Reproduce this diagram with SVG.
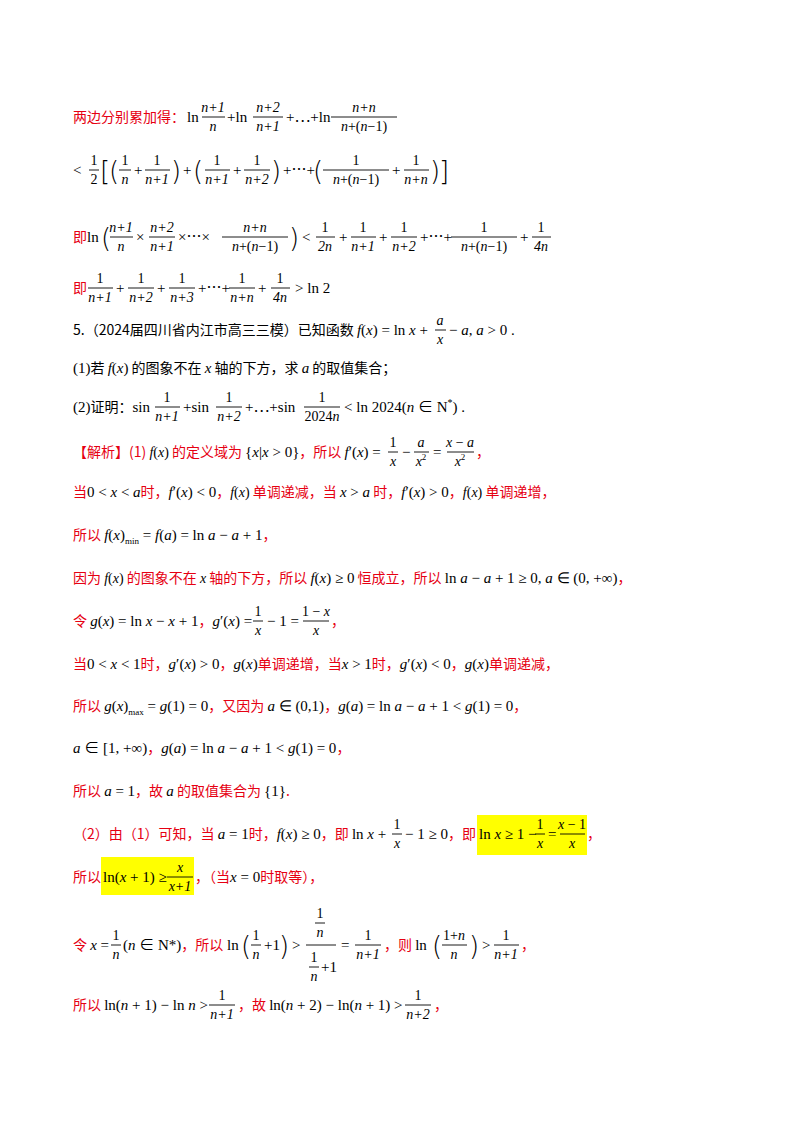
<svg xmlns="http://www.w3.org/2000/svg" width="800" height="1132" viewBox="0 0 800 1132">
<style>
text{font-family:"Liberation Serif","Noto Sans CJK SC",serif;font-size:15px;fill:#000}
.r{fill:#e60012;font-family:"Noto Sans CJK SC",sans-serif;font-size:14px}
.c{font-family:"Noto Sans CJK SC",sans-serif;font-size:14px}
.i{font-style:italic}
.f{text-anchor:middle;font-size:14px}
.b{font-size:26px;font-family:"DejaVu Sans",sans-serif;font-weight:100}
line{stroke:#000;stroke-width:0.9}
</style>
<rect width="800" height="1132" fill="#fff"/>
<g id="highlights" fill="#ffff00"><rect x="477" y="815" width="110" height="40"/><rect x="101" y="857" width="93" height="38"/></g>

<g id="line1">
<text class="r" x="73" y="122">两边分别累加得：</text>
<text x="187" y="122">ln</text>
<text class="f i" x="213" y="112">n+1</text><line x1="202" x2="225" y1="117" y2="117"/><text class="f i" x="213" y="131">n</text>
<text x="227" y="122">+ln</text>
<text class="f i" x="268" y="112">n+2</text><line x1="253" x2="283" y1="117" y2="117"/><text class="f i" x="268" y="131">n+1</text>
<text x="286" y="122">+⋯+ln</text>
<text class="f i" x="364" y="112">n+n</text><line x1="331" x2="397" y1="117" y2="117"/><text class="f" x="364" y="131"><tspan class="i">n</tspan>+(<tspan class="i">n</tspan>−1)</text>
</g>

<g id="line2">
<text x="73" y="175">&lt;</text>
<text class="f" x="94" y="165">1</text><line x1="89" x2="99" y1="170" y2="170"/><text class="f" x="94" y="184">2</text>
<text class="b" x="100" y="180">[</text><text class="b" x="109" y="180">(</text>
<text class="f" x="125" y="165">1</text><line x1="119" x2="131" y1="170" y2="170"/><text class="f i" x="125" y="184">n</text>
<text x="134" y="175">+</text>
<text class="f" x="157" y="165">1</text><line x1="145" x2="170" y1="170" y2="170"/><text class="f i" x="157" y="184">n+1</text>
<text class="b" x="171" y="180">)</text><text x="183" y="175">+</text><text class="b" x="193" y="180">(</text>
<text class="f" x="217" y="165">1</text><line x1="205" x2="230" y1="170" y2="170"/><text class="f i" x="217" y="184">n+1</text>
<text x="233" y="175">+</text>
<text class="f" x="257" y="165">1</text><line x1="244" x2="270" y1="170" y2="170"/><text class="f i" x="257" y="184">n+2</text>
<text class="b" x="271" y="180">)</text><text x="283" y="175">+⋯+</text><text class="b" x="313" y="180">(</text>
<text class="f" x="356" y="165">1</text><line x1="323" x2="389" y1="170" y2="170"/><text class="f" x="356" y="184"><tspan class="i">n</tspan>+(<tspan class="i">n</tspan>−1)</text>
<text x="392" y="175">+</text>
<text class="f" x="416" y="165">1</text><line x1="404" x2="429" y1="170" y2="170"/><text class="f i" x="416" y="184">n+n</text>
<text class="b" x="430" y="180">)</text><text class="b" x="439" y="180">]</text>
</g>

<g id="line3">
<text class="r" x="73" y="242">即</text><text x="87" y="242">ln</text><text class="b" x="101" y="247">(</text>
<text class="f i" x="121" y="232">n+1</text><line x1="110" x2="133" y1="237" y2="237"/><text class="f i" x="121" y="251">n</text>
<text x="136" y="242">×</text>
<text class="f i" x="162" y="232">n+2</text><line x1="149" x2="175" y1="237" y2="237"/><text class="f i" x="162" y="251">n+1</text>
<text x="178" y="242">×⋯×</text>
<text class="f i" x="255" y="232">n+n</text><line x1="222" x2="288" y1="237" y2="237"/><text class="f" x="255" y="251"><tspan class="i">n</tspan>+(<tspan class="i">n</tspan>−1)</text>
<text class="b" x="289" y="247">)</text><text x="302" y="242">&lt;</text>
<text class="f" x="325" y="232">1</text><line x1="316" x2="335" y1="237" y2="237"/><text class="f i" x="325" y="251">2n</text>
<text x="339" y="242">+</text>
<text class="f" x="363" y="232">1</text><line x1="351" x2="376" y1="237" y2="237"/><text class="f i" x="363" y="251">n+1</text>
<text x="379" y="242">+</text>
<text class="f" x="404" y="232">1</text><line x1="391" x2="417" y1="237" y2="237"/><text class="f i" x="404" y="251">n+2</text>
<text x="420" y="242">+⋯+</text>
<text class="f" x="484" y="232">1</text><line x1="451" x2="517" y1="237" y2="237"/><text class="f" x="484" y="251"><tspan class="i">n</tspan>+(<tspan class="i">n</tspan>−1)</text>
<text x="520" y="242">+</text>
<text class="f" x="541" y="232">1</text><line x1="532" x2="551" y1="237" y2="237"/><text class="f i" x="541" y="251">4n</text>
</g>

<g id="line4">
<text class="r" x="73" y="293">即</text>
<text class="f" x="100" y="283">1</text><line x1="88" x2="113" y1="288" y2="288"/><text class="f i" x="100" y="302">n+1</text>
<text x="116" y="293">+</text>
<text class="f" x="141" y="283">1</text><line x1="128" x2="154" y1="288" y2="288"/><text class="f i" x="141" y="302">n+2</text>
<text x="157" y="293">+</text>
<text class="f" x="182" y="283">1</text><line x1="169" x2="195" y1="288" y2="288"/><text class="f i" x="182" y="302">n+3</text>
<text x="198" y="293">+⋯+</text>
<text class="f" x="242" y="283">1</text><line x1="229" x2="255" y1="288" y2="288"/><text class="f i" x="242" y="302">n+n</text>
<text x="258" y="293">+</text>
<text class="f" x="280" y="283">1</text><line x1="271" x2="290" y1="288" y2="288"/><text class="f i" x="280" y="302">4n</text>
<text x="295" y="293">&gt; ln 2</text>
</g>

<g id="line5">
<text x="73" y="335"><tspan class="c">5.（2024届四川省内江市高三三模）已知函数 </tspan><tspan class="i">f</tspan>(<tspan class="i">x</tspan>) = ln <tspan class="i">x</tspan> +</text>
<text class="f i" x="440" y="325">a</text><line x1="435" x2="446" y1="330" y2="330"/><text class="f i" x="440" y="344">x</text>
<text x="449" y="335">− <tspan class="i">a</tspan>, <tspan class="i">a</tspan> &gt; 0 .</text>
</g>

<g id="line6"><text x="73" y="373">(1)<tspan class="c">若 </tspan><tspan class="i">f</tspan>(<tspan class="i">x</tspan>)<tspan class="c"> 的图象不在 </tspan><tspan class="i">x</tspan><tspan class="c"> 轴的下方，求 </tspan><tspan class="i">a</tspan><tspan class="c"> 的取值集合；</tspan></text></g>

<g id="line7">
<text x="73" y="412">(2)<tspan class="c">证明：</tspan>sin</text>
<text class="f" x="167" y="402">1</text><line x1="155" x2="180" y1="407" y2="407"/><text class="f i" x="167" y="421">n+1</text>
<text x="183" y="412">+sin</text>
<text class="f" x="229" y="402">1</text><line x1="216" x2="242" y1="407" y2="407"/><text class="f i" x="229" y="421">n+2</text>
<text x="245" y="412">+⋯+sin</text>
<text class="f" x="322" y="402">1</text><line x1="304" x2="340" y1="407" y2="407"/><text class="f" x="322" y="421">2024<tspan class="i">n</tspan></text>
<text x="344" y="412">&lt; ln 2024(<tspan class="i">n</tspan> ∈ N<tspan font-size="10" dy="-6">*</tspan><tspan dy="6">) .</tspan></text>
</g>

<g id="line8">
<text class="r" x="73" y="457">【解析】(1) <tspan font-family="Liberation Serif" font-style="italic" fill="#000">f</tspan><tspan fill="#000" font-family="Liberation Serif">(<tspan font-style="italic">x</tspan>)</tspan> 的定义域为 <tspan fill="#000" font-family="Liberation Serif" font-size="15">{<tspan font-style="italic">x</tspan>|<tspan font-style="italic">x</tspan> &gt; 0}</tspan>，所以 <tspan fill="#000" font-family="Liberation Serif" font-size="15"><tspan font-style="italic">f</tspan>′(<tspan font-style="italic">x</tspan>) =</tspan></text>
<text class="f" x="393" y="447">1</text><line x1="388" x2="398" y1="452" y2="452"/><text class="f i" x="393" y="466">x</text>
<text x="402" y="457">−</text>
<text class="f i" x="421" y="447">a</text><line x1="414" x2="429" y1="452" y2="452"/><text class="f" x="421" y="466"><tspan class="i">x</tspan><tspan font-size="9" dy="-6">2</tspan></text>
<text x="433" y="457">=</text>
<text class="f" x="460" y="447"><tspan class="i">x</tspan> − <tspan class="i">a</tspan></text><line x1="447" x2="474" y1="452" y2="452"/><text class="f" x="460" y="466"><tspan class="i">x</tspan><tspan font-size="9" dy="-6">2</tspan></text>
<text class="r" x="476" y="457">，</text>
</g>

<g id="line9"><text class="r" x="73" y="497">当<tspan fill="#000" font-family="Liberation Serif" font-size="15">0 &lt; <tspan font-style="italic">x</tspan> &lt; <tspan font-style="italic">a</tspan></tspan>时，<tspan fill="#000" font-family="Liberation Serif" font-size="15"><tspan font-style="italic">f</tspan>′(<tspan font-style="italic">x</tspan>) &lt; 0</tspan>，<tspan fill="#000" font-family="Liberation Serif"><tspan font-style="italic">f</tspan>(<tspan font-style="italic">x</tspan>)</tspan> 单调递减，当 <tspan fill="#000" font-family="Liberation Serif" font-size="15"><tspan font-style="italic">x</tspan> &gt; <tspan font-style="italic">a</tspan></tspan> 时，<tspan fill="#000" font-family="Liberation Serif" font-size="15"><tspan font-style="italic">f</tspan>′(<tspan font-style="italic">x</tspan>) &gt; 0</tspan>，<tspan fill="#000" font-family="Liberation Serif"><tspan font-style="italic">f</tspan>(<tspan font-style="italic">x</tspan>)</tspan> 单调递增，</text></g>

<g id="line10"><text class="r" x="73" y="540">所以 <tspan fill="#000" font-family="Liberation Serif" font-size="15"><tspan font-style="italic">f</tspan>(<tspan font-style="italic">x</tspan>)<tspan font-size="9" dy="4">min</tspan><tspan dy="-4"> = </tspan><tspan font-style="italic">f</tspan>(<tspan font-style="italic">a</tspan>) = ln <tspan font-style="italic">a</tspan> − <tspan font-style="italic">a</tspan> + 1</tspan>，</text></g>

<g id="line11"><text class="r" x="73" y="583">因为 <tspan fill="#000" font-family="Liberation Serif"><tspan font-style="italic">f</tspan>(<tspan font-style="italic">x</tspan>)</tspan> 的图象不在 <tspan fill="#000" font-family="Liberation Serif" font-style="italic">x</tspan> 轴的下方，所以 <tspan fill="#000" font-family="Liberation Serif" font-size="15"><tspan font-style="italic">f</tspan>(<tspan font-style="italic">x</tspan>) ≥ 0</tspan> 恒成立，所以 <tspan fill="#000" font-family="Liberation Serif" font-size="15">ln <tspan font-style="italic">a</tspan> − <tspan font-style="italic">a</tspan> + 1 ≥ 0, <tspan font-style="italic">a</tspan> ∈ (0, +∞)</tspan>，</text></g>

<g id="line12">
<text class="r" x="73" y="626">令 <tspan fill="#000" font-family="Liberation Serif" font-size="15"><tspan font-style="italic">g</tspan>(<tspan font-style="italic">x</tspan>) = ln <tspan font-style="italic">x</tspan> − <tspan font-style="italic">x</tspan> + 1</tspan>，<tspan fill="#000" font-family="Liberation Serif" font-size="15"><tspan font-style="italic">g</tspan>′(<tspan font-style="italic">x</tspan>) =</tspan></text>
<text class="f" x="258" y="616">1</text><line x1="253" x2="263" y1="621" y2="621"/><text class="f i" x="258" y="635">x</text>
<text x="267" y="626">− 1 =</text>
<text class="f" x="316" y="616">1 − <tspan class="i">x</tspan></text><line x1="303" x2="329" y1="621" y2="621"/><text class="f i" x="316" y="635">x</text>
<text class="r" x="331" y="626">，</text>
</g>

<g id="line13"><text class="r" x="73" y="669">当<tspan fill="#000" font-family="Liberation Serif" font-size="15">0 &lt; <tspan font-style="italic">x</tspan> &lt; 1</tspan>时，<tspan fill="#000" font-family="Liberation Serif" font-size="15"><tspan font-style="italic">g</tspan>′(<tspan font-style="italic">x</tspan>) &gt; 0</tspan>，<tspan fill="#000" font-family="Liberation Serif" font-size="15"><tspan font-style="italic">g</tspan>(<tspan font-style="italic">x</tspan>)</tspan>单调递增，当<tspan fill="#000" font-family="Liberation Serif" font-size="15"><tspan font-style="italic">x</tspan> &gt; 1</tspan>时，<tspan fill="#000" font-family="Liberation Serif" font-size="15"><tspan font-style="italic">g</tspan>′(<tspan font-style="italic">x</tspan>) &lt; 0</tspan>，<tspan fill="#000" font-family="Liberation Serif" font-size="15"><tspan font-style="italic">g</tspan>(<tspan font-style="italic">x</tspan>)</tspan>单调递减，</text></g>

<g id="line14"><text class="r" x="73" y="711">所以 <tspan fill="#000" font-family="Liberation Serif" font-size="15"><tspan font-style="italic">g</tspan>(<tspan font-style="italic">x</tspan>)<tspan font-size="9" dy="4">max</tspan><tspan dy="-4"> = </tspan><tspan font-style="italic">g</tspan>(1) = 0</tspan>，又因为 <tspan fill="#000" font-family="Liberation Serif" font-size="15"><tspan font-style="italic">a</tspan> ∈ (0,1)</tspan>，<tspan fill="#000" font-family="Liberation Serif" font-size="15"><tspan font-style="italic">g</tspan>(<tspan font-style="italic">a</tspan>) = ln <tspan font-style="italic">a</tspan> − <tspan font-style="italic">a</tspan> + 1 &lt; <tspan font-style="italic">g</tspan>(1) = 0</tspan>，</text></g>

<g id="line15"><text x="73" y="753"><tspan class="i">a</tspan> ∈ [1, +∞)<tspan class="r">，</tspan><tspan class="i">g</tspan>(<tspan class="i">a</tspan>) = ln <tspan class="i">a</tspan> − <tspan class="i">a</tspan> + 1 &lt; <tspan class="i">g</tspan>(1) = 0<tspan class="r">，</tspan></text></g>

<g id="line16"><text class="r" x="73" y="796">所以 <tspan fill="#000" font-family="Liberation Serif" font-size="15"><tspan font-style="italic">a</tspan> = 1</tspan>，故 <tspan fill="#000" font-family="Liberation Serif" font-style="italic" font-size="15">a</tspan> 的取值集合为 <tspan fill="#000" font-family="Liberation Serif" font-size="15">{1}</tspan>.</text></g>

<g id="line17">
<text class="r" x="73" y="839">（2）由（1）可知，当 <tspan fill="#000" font-family="Liberation Serif" font-size="15"><tspan font-style="italic">a</tspan> = 1</tspan>时，<tspan fill="#000" font-family="Liberation Serif" font-size="15"><tspan font-style="italic">f</tspan>(<tspan font-style="italic">x</tspan>) ≥ 0</tspan>，即 <tspan fill="#000" font-family="Liberation Serif" font-size="15">ln <tspan font-style="italic">x</tspan> +</tspan></text>
<text class="f" x="397" y="829">1</text><line x1="392" x2="402" y1="834" y2="834"/><text class="f i" x="397" y="848">x</text>
<text x="405" y="839">− 1 ≥ 0<tspan class="r">，即</tspan></text>
<text x="479" y="839">ln <tspan class="i">x</tspan> ≥ 1 −</text>
<text class="f" x="540" y="829">1</text><line x1="535" x2="545" y1="834" y2="834"/><text class="f i" x="540" y="848">x</text>
<text x="548" y="839">=</text>
<text class="f" x="572" y="829"><tspan class="i">x</tspan> − 1</text><line x1="560" x2="585" y1="834" y2="834"/><text class="f i" x="572" y="848">x</text>
<text class="r" x="587" y="839">，</text>
</g>

<g id="line18">
<text class="r" x="73" y="882">所以</text>
<text x="103" y="882">ln(<tspan class="i">x</tspan> + 1) ≥</text>
<text class="f i" x="180" y="872">x</text><line x1="167" x2="193" y1="877" y2="877"/><text class="f i" x="180" y="891">x+1</text>
<text class="r" x="195" y="882">，（当<tspan fill="#000" font-family="Liberation Serif" font-size="15"><tspan font-style="italic">x</tspan> = 0</tspan>时取等），</text>
</g>

<g id="line19">
<text class="r" x="73" y="950">令 <tspan fill="#000" font-family="Liberation Serif" font-size="15"><tspan font-style="italic">x</tspan> =</tspan></text>
<text class="f" x="116" y="940">1</text><line x1="111" x2="121" y1="945" y2="945"/><text class="f i" x="116" y="959">n</text>
<text x="123" y="950">(<tspan class="i">n</tspan> ∈ N*)<tspan class="r">，所以</tspan> ln</text>
<text class="b" x="241" y="955">(</text>
<text class="f" x="256" y="940">1</text><line x1="251" x2="261" y1="945" y2="945"/><text class="f i" x="256" y="959">n</text>
<text x="264" y="950">+1</text><text class="b" x="279" y="955">)</text>
<text x="292" y="950">&gt;</text>
<text class="f" x="320" y="918">1</text><line x1="315" x2="325" y1="923" y2="923"/><text class="f i" x="320" y="937">n</text>
<line x1="306" x2="336" y1="945" y2="945"/>
<text class="f" x="314" y="962">1</text><line x1="309" x2="319" y1="967" y2="967"/><text class="f i" x="314" y="981">n</text><text x="321" y="972">+1</text>
<text x="341" y="950">=</text>
<text class="f" x="368" y="940">1</text><line x1="355" x2="381" y1="945" y2="945"/><text class="f i" x="368" y="959">n+1</text>
<text class="r" x="384" y="950">，则 <tspan fill="#000" font-family="Liberation Serif" font-size="15">ln</tspan></text>
<text class="b" x="432" y="955">(</text>
<text class="f" x="454" y="940">1+<tspan class="i">n</tspan></text><line x1="442" x2="467" y1="945" y2="945"/><text class="f i" x="454" y="959">n</text>
<text class="b" x="469" y="955">)</text>
<text x="482" y="950">&gt;</text>
<text class="f" x="506" y="940">1</text><line x1="494" x2="519" y1="945" y2="945"/><text class="f i" x="506" y="959">n+1</text>
<text class="r" x="521" y="950">，</text>
</g>

<g id="line20">
<text class="r" x="73" y="1010">所以 <tspan fill="#000" font-family="Liberation Serif" font-size="15">ln(<tspan font-style="italic">n</tspan> + 1) − ln <tspan font-style="italic">n</tspan> &gt;</tspan></text>
<text class="f" x="222" y="1000">1</text><line x1="209" x2="235" y1="1005" y2="1005"/><text class="f i" x="222" y="1019">n+1</text>
<text class="r" x="238" y="1010">，故 <tspan fill="#000" font-family="Liberation Serif" font-size="15">ln(<tspan font-style="italic">n</tspan> + 2) − ln(<tspan font-style="italic">n</tspan> + 1) &gt;</tspan></text>
<text class="f" x="418" y="1000">1</text><line x1="405" x2="431" y1="1005" y2="1005"/><text class="f i" x="418" y="1019">n+2</text>
<text class="r" x="434" y="1010">，</text>
</g>
</svg>
